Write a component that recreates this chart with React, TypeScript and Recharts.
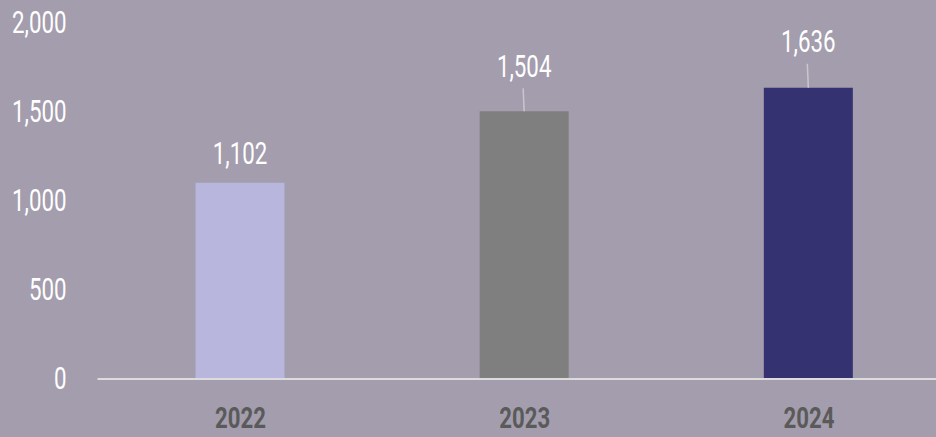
import { BarChart, Bar, XAxis, YAxis, Cell, LabelList } from "recharts";

const years = ["2022", "2023", "2024"];
const totals = [1102, 1504, 1636];
const barColors = ["#b8b6dc", "#7f7f7f", "#343270"];
const yTicks = [0, 500, 1000, 1500, 2000];
// how far each callout sits above its bar (moved by hand in the original)
const labelLift = [29, 45, 46];

const chartData = years.map((year, i) => ({ year, total: totals[i] }));

const FONT = "Roboto, 'DejaVu Sans', sans-serif";
const SQUEEZE = 0.72;

const fmt = (v: number) => v.toLocaleString("en-US");

// no condensed face is installed, so squeeze a regular one horizontally
const NarrowText = ({ x, y, anchor, fill, weight, size, squeeze = SQUEEZE, children }: any) => (
  <text
    transform={`translate(${x},${y}) scale(${squeeze},1)`}
    textAnchor={anchor}
    dominantBaseline="central"
    fill={fill}
    fontFamily={FONT}
    fontWeight={weight}
    fontSize={size}
  >
    {children}
  </text>
);

const YTick = ({ x, y, payload }: any) => (
  <NarrowText x={x} y={y} anchor="end" fill="#ffffff" weight={400} size={31}>
    {fmt(payload.value)}
  </NarrowText>
);

const XTick = ({ x, y, payload }: any) => (
  <NarrowText x={x + 1} y={y + 39} anchor="middle" fill="#5a5a5a" weight={700} size={30} squeeze={0.74}>
    {payload.value}
  </NarrowText>
);

const Callout = (props: any) => {
  const { x, y, width, value, index } = props;
  const cx = x + width / 2;
  const lift = labelLift[index] ?? 25;
  const ty = y - lift;
  return (
    <g>
      {lift > 35 && (
        <line x1={cx - 1} y1={ty + 22} x2={cx} y2={y} stroke="#c9c6cf" strokeWidth={1.5} />
      )}
      <NarrowText x={cx} y={ty} anchor="middle" fill="#ffffff" weight={400} size={31}>
        {fmt(value)}
      </NarrowText>
    </g>
  );
};

export default function App() {
  return (
    <div
      style={{
        position: "fixed",
        left: 0,
        top: 0,
        width: 936,
        height: 437,
        overflow: "hidden",
        background: "#a39dad",
      }}
    >
      <BarChart
        width={950}
        height={437}
        data={chartData}
        margin={{ top: 23, right: 0, bottom: 0, left: 0 }}
      >
        <YAxis
          width={97.5}
          domain={[0, 2000]}
          ticks={yTicks}
          axisLine={false}
          tickLine={false}
          tickSize={0}
          tickMargin={31}
          tick={<YTick />}
        />
        <XAxis
          dataKey="year"
          height={58}
          axisLine={{ stroke: "#dcdcdc", strokeWidth: 2 }}
          tickLine={false}
          tickSize={0}
          tickMargin={0}
          tick={<XTick />}
        />
        <Bar dataKey="total" barSize={89} isAnimationActive={false}>
          {chartData.map((d, i) => (
            <Cell key={d.year} fill={barColors[i]} />
          ))}
          <LabelList dataKey="total" content={<Callout />} />
        </Bar>
      </BarChart>
    </div>
  );
}
